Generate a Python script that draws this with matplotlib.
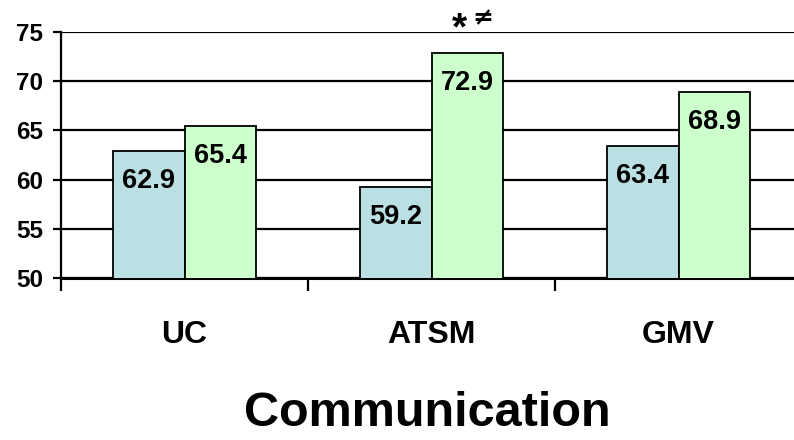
import matplotlib
matplotlib.use("Agg")
import matplotlib.pyplot as plt
import numpy as np

# Communication scores by group, before (blue) and after (green)
categories = ["UC", "ATSM", "GMV"]
before_values = [62.9, 59.2, 63.4]
after_values = [65.4, 72.9, 68.9]
y_ticks = [50, 55, 60, 65, 70, 75]
title = "Communication"

plt.rcParams["font.family"] = ["Liberation Sans", "DejaVu Sans"]
plt.rcParams["font.weight"] = "bold"

fig = plt.figure(figsize=(7.94, 4.40), dpi=100)
ax = fig.add_axes([61 / 794, 1 - 278 / 440, 741 / 794, 246 / 440])

x = np.arange(len(categories))
w = 0.29
blue = "#BBE0E3"
green = "#CCFFCC"

ax.set_axisbelow(True)
ax.yaxis.grid(True, color="black", linewidth=1.6)

bars_b = ax.bar(x - w / 2, before_values, w, bottom=0, color=blue,
                edgecolor="black", linewidth=1.3, zorder=3)
bars_a = ax.bar(x + w / 2, after_values, w, bottom=0, color=green,
                edgecolor="black", linewidth=1.3, zorder=3)

for bars, vals in ((bars_b, before_values), (bars_a, after_values)):
    for b, v in zip(bars, vals):
        ax.annotate(f"{v:.1f}", (b.get_x() + b.get_width() / 2, v),
                    xytext=(0, -21.5), textcoords="offset points",
                    ha="center", va="center", fontsize=19.5,
                    fontweight="bold", zorder=4)

# significance marks over the ATSM post bar
ax.annotate("*", (1 + w / 2, 75), xytext=(-5.4, 1.5), textcoords="offset points",
            ha="center", va="center", fontsize=28, fontweight="bold",
            annotation_clip=False)
ax.annotate("≠", (1 + w / 2, 75), xytext=(11.5, 10), textcoords="offset points",
            ha="center", va="center", fontsize=18, fontweight="bold",
            family=["DejaVu Sans"], annotation_clip=False)

ax.set_ylim(50, 75)
ax.set_xlim(-0.5, 2.5)
ax.set_yticks(y_ticks)
ax.set_yticklabels([str(t) for t in y_ticks], fontsize=17.5, fontweight="bold")
ax.tick_params(axis="y", length=6, width=1.6, pad=7)

ax.set_xticks(x)
ax.set_xticklabels(categories, fontsize=23, fontweight="bold")
ax.set_xticks(np.arange(-0.5, len(categories)), minor=True)
ax.tick_params(axis="x", which="major", length=0, pad=30)
ax.tick_params(axis="x", which="minor", length=9, width=1.6, direction="out")

for s in ("top", "right"):
    ax.spines[s].set_visible(False)
ax.spines["left"].set_linewidth(1.6)
ax.spines["bottom"].set_linewidth(2.2)

ax.set_xlabel(title, fontsize=35, fontweight="bold")
ax.xaxis.set_label_coords((427.5 - 61) / 741, -(413 - 278) / 246)
ax.xaxis.label.set_va("center")

fig.savefig("out.png", dpi=100)
